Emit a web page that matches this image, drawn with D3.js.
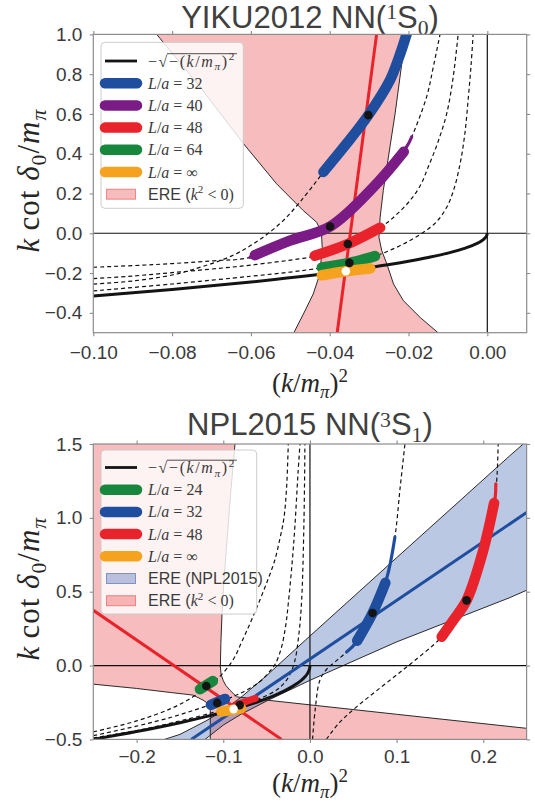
<!DOCTYPE html>
<html>
<head>
<meta charset="utf-8">
<script src="https://cdn.jsdelivr.net/npm/d3@7"></script>
<style>
  body { margin: 0; background: #fff; }
  .tick text { fill: #3a3a3a; font-family: "Liberation Sans", Arial, sans-serif; font-size: 19px; }
  .tick line { stroke: #8c8c8c; stroke-width: 1.1; }
</style>
</head>
<body>
<div id="chart"></div>
<script>
// ---------- shared ----------
const sqrtCurve = [[-0.25,-0.5],[-0.2,-0.447],[-0.15,-0.387],[-0.12,-0.346],[-0.10,-0.316],[-0.08,-0.283],[-0.06,-0.245],[-0.04,-0.2],[-0.03,-0.173],[-0.02,-0.141],[-0.015,-0.122],[-0.01,-0.1],[-0.006,-0.077],[-0.003,-0.055],[-0.0015,-0.039],[-0.0006,-0.024],[-0.0002,-0.014],[0,0]];

// ---------- top panel: YIKU2012 NN(1S0) ----------
const topXTicks = [-0.10,-0.08,-0.06,-0.04,-0.02,0.00];
const topYTicks = [1.0,0.8,0.6,0.4,0.2,0.0,-0.2,-0.4];
const topPinkLeft = [[-0.0839,1.0],[-0.0729,0.736],[-0.0619,0.451],[-0.0535,0.249],[-0.0467,0.114],[-0.0433,0.055],[-0.0421,0.005],[-0.0419,-0.071],[-0.0425,-0.205],[-0.0442,-0.306],[-0.0467,-0.407],[-0.0491,-0.5]];
const topPinkRight = [[-0.0206,1.0],[-0.0217,0.854],[-0.0234,0.602],[-0.0251,0.383],[-0.0264,0.215],[-0.0272,0.081],[-0.0275,-0.020],[-0.0268,-0.087],[-0.0255,-0.154],[-0.0238,-0.255],[-0.0213,-0.339],[-0.0170,-0.424],[-0.0125,-0.5]];
const topEre = [[-0.0281,1.0],[-0.0381,-0.5]];
const topDash32 = [[-0.100,-0.256],[-0.090,-0.240],[-0.080,-0.210],[-0.0747,-0.182],[-0.065,-0.115],[-0.058,-0.035],[-0.052,0.060],[-0.047,0.170],[-0.0416,0.308]];
const topDash40 = [[-0.100,-0.171],[-0.085,-0.158],[-0.070,-0.139],[-0.0602,-0.121],[-0.0501,-0.037],[-0.0399,0.034],[-0.0289,0.232],[-0.0205,0.434],[-0.0192,0.484],[-0.0154,0.686],[-0.0137,0.837],[-0.0120,1.0]];
const topDash48 = [[-0.100,-0.228],[-0.090,-0.215],[-0.080,-0.198],[-0.070,-0.180],[-0.060,-0.160],[-0.0478,-0.129],[-0.0442,-0.117],[-0.0354,-0.054],[-0.0268,0.034],[-0.0230,0.095],[-0.0196,0.165],[-0.0170,0.240],[-0.0150,0.333],[-0.0125,0.460],[-0.0103,0.602],[-0.0087,0.780],[-0.0074,1.0]];
const topDash64 = [[-0.100,-0.290],[-0.080,-0.255],[-0.060,-0.216],[-0.050,-0.195],[-0.0425,-0.175],[-0.0350,-0.149],[-0.0281,-0.112],[-0.0235,-0.075],[-0.0195,-0.035],[-0.0162,0.005],[-0.0130,0.055],[-0.0103,0.131],[-0.0085,0.220],[-0.0069,0.350],[-0.0057,0.500],[-0.0048,0.686],[-0.0041,0.850],[-0.0036,1.0]];
const topBand32 = [[-0.0416,0.308],[-0.0357,0.451],[-0.0302,0.594],[-0.0247,0.770],[-0.0225,0.880],[-0.0205,1.0],[-0.0195,1.07]];
const topBand40Thin = [[-0.0602,-0.121],[-0.0501,-0.037],[-0.0399,0.034],[-0.0289,0.232],[-0.0205,0.434],[-0.0192,0.484]];
const topBand40 = [[-0.0590,-0.110],[-0.0501,-0.037],[-0.0399,0.034],[-0.0289,0.232],[-0.0212,0.410]];
const topBand48 = [[-0.0438,-0.113],[-0.0354,-0.054],[-0.0272,0.028]];
const topBand64 = [[-0.0420,-0.172],[-0.0350,-0.149],[-0.0285,-0.115]];
const topBandInf = [[-0.0420,-0.211],[-0.0359,-0.191],[-0.0297,-0.177]];
const topDots = [[-0.0302,0.594],[-0.0399,0.034],[-0.0354,-0.054],[-0.0350,-0.149]];
const topDotInf = [-0.0359,-0.191];
const topLegendLabels = ["L/a = 32","L/a = 40","L/a = 48","L/a = 64","L/a = ∞"];

// ---------- bottom panel: NPL2015 NN(3S1) ----------
const botXTicks = [-0.2,-0.1,0.0,0.1,0.2];
const botYTicks = [1.5,1.0,0.5,0.0,-0.5];
const botPinkUpper = [[-0.0865,1.5],[-0.091,1.2],[-0.095,0.9],[-0.099,0.6],[-0.1015,0.35],[-0.1028,0.15],[-0.1034,-0.01],[-0.1025,-0.06],[-0.1003,-0.099],[-0.097,-0.135],[-0.0923,-0.167],[-0.0846,-0.212],[0.0,-0.266],[0.1,-0.33],[0.25,-0.425]];
const botPinkLower = [[-0.25,-0.126],[-0.2,-0.155],[-0.16,-0.183],[-0.135,-0.200],[-0.1234,-0.234],[-0.1175,-0.258],[-0.115,-0.28],[-0.115,-0.5]];
const botBlueUpper = [[-0.168,-0.5],[-0.15,-0.466],[-0.12,-0.375],[-0.10,-0.303],[-0.08,-0.217],[-0.05,-0.068],[0.0,0.20],[0.1,0.73],[0.2307,1.421],[0.25,1.52]];
const botBlueLower = [[-0.121,-0.5],[-0.10,-0.403],[-0.08,-0.331],[-0.05,-0.24],[0.0,-0.10],[0.1,0.16],[0.2307,0.46],[0.25,0.51]];
const botEreRed = [[-0.25,0.374],[-0.0327,-0.5]];
const botEreBlue = [[-0.137,-0.5],[0.25,1.036]];
const botDash24 = [[-0.25,-0.449],[-0.20,-0.375],[-0.16,-0.29],[-0.135,-0.212],[-0.12,-0.15],[-0.105,-0.08],[-0.089,0.036],[-0.078,0.17],[-0.068,0.30],[-0.058,0.44],[-0.048,0.59],[-0.0407,0.711],[-0.0346,0.86],[-0.030,1.0],[-0.027,1.2],[-0.025,1.5]];
const botDash32a = [[-0.25,-0.475],[-0.20,-0.41],[-0.16,-0.35],[-0.13,-0.295],[-0.107,-0.25],[-0.081,-0.19],[-0.058,-0.11],[-0.045,-0.03],[-0.040,0.01],[-0.033,0.12],[-0.028,0.27],[-0.025,0.42],[-0.0205,0.70],[-0.0173,0.95],[-0.0138,1.3],[-0.0115,1.5]];
const botDash48a = [[-0.25,-0.49],[-0.20,-0.44],[-0.15,-0.375],[-0.10,-0.30],[-0.0811,-0.268],[-0.0696,-0.25],[-0.0389,-0.167],[-0.026,-0.09],[-0.018,0.02],[-0.013,0.2],[-0.0096,0.441],[-0.0069,0.98],[-0.0058,1.5]];
const botDash32b = [[0.003,-0.5],[0.006,-0.3],[0.0115,-0.099],[0.020,-0.02],[0.030,0.03],[0.0423,0.092],[0.0538,0.160],[0.0723,0.356],[0.0884,0.588],[0.098,0.869],[0.104,1.2],[0.1096,1.5]];
const botDash48b = [[0.019,-0.5],[0.0211,-0.482],[0.035,-0.38],[0.0538,-0.28],[0.0923,-0.099],[0.12,0.03],[0.15,0.182],[0.1653,0.306],[0.1807,0.441],[0.1999,0.779],[0.2075,0.95],[0.2134,1.12],[0.2160,1.3],[0.2172,1.5]];
const botBand32Thin = [[0.0423,0.092],[0.0538,0.160],[0.0723,0.356],[0.0884,0.588],[0.098,0.869]];
const botBand32 = [[0.0545,0.168],[0.0723,0.356],[0.0870,0.560]];
const botBand48Thin = [[0.1520,0.195],[0.1807,0.441],[0.1999,0.779],[0.2134,1.12],[0.2145,1.23]];
const botBand48 = [[0.1520,0.195],[0.1653,0.306],[0.1807,0.441],[0.1999,0.779],[0.2125,1.10]];
const botBlob24 = [[-0.127,-0.160],[-0.112,-0.105]];
const botBlob32 = [[-0.1143,-0.266],[-0.0980,-0.226]];
const botBlob48 = [[-0.086,-0.268],[-0.063,-0.222]];
const botBlobInf = [[-0.1021,-0.312],[-0.0795,-0.290]];
const botDots = [[-0.1196,-0.138],[-0.107,-0.253],[-0.0811,-0.268],[0.0723,0.356],[0.1807,0.441]];
const botDotInf = [-0.0881,-0.295];
const botLegendLabels = ["L/a = 24","L/a = 32","L/a = 48","L/a = ∞"];

// ---------- styles ----------
const serif = '"Liberation Serif", "DejaVu Serif", serif';
const sans = '"Liberation Sans", Arial, sans-serif';
const txt = "#3a3a3a";
const C = { black:"#141414", blue:"#1f4e9f", purple:"#7b1b85", red:"#e8232b", green:"#17873d", orange:"#f5a31e",
            pink:"rgb(232,60,62)", pinkOp:0.34, bband:"rgb(48,88,170)", bbandOp:0.33, spine:"#8c8c8c" };
const thick = 10.5, thin = 3.2;

const svg = d3.select("#chart").append("svg").attr("width", 535).attr("height", 806);

function rich(sel, parts, fs, supK = 0.40) {
  let shift = 0;
  parts.forEach(p => {
    const target = p.sub ? 0.24 * fs : p.sup ? -supK * fs : 0;
    sel.append("tspan").text(p.t)
      .attr("dy", target - shift)
      .style("font-size", (p.sub || p.sup) ? (fs * 0.7) + "px" : fs + "px")
      .style("font-style", p.i ? "italic" : "normal")
      .style("font-family", p.s ? sans : serif);
    shift = target;
  });
  return sel;
}

function panel(p) {
  const x = d3.scaleLinear().domain(p.xDomain).range([p.left, p.right]);
  const y = d3.scaleLinear().domain(p.yDomain).range([p.bottom, p.top]);
  svg.append("clipPath").attr("id", "clip" + p.id).append("rect")
    .attr("x", p.left).attr("y", p.top).attr("width", p.right - p.left).attr("height", p.bottom - p.top);
  const plot = svg.append("g").attr("clip-path", `url(#clip${p.id})`);

  const line = (pts, curve) => d3.line().x(d => x(d[0])).y(d => y(d[1])).curve(curve || d3.curveCatmullRom.alpha(0.5))(pts);
  const draw = (pts, color, w, opts = {}) => plot.append("path").attr("d", line(pts, opts.curve))
      .attr("fill", "none").attr("stroke", color).attr("stroke-width", w)
      .attr("stroke-linecap", opts.cap || "butt").attr("stroke-dasharray", opts.dash || null);
  const fill = (pts, color, op) => plot.append("path").attr("d", line(pts, d3.curveLinearClosed))
      .attr("fill", color).attr("fill-opacity", op).attr("stroke", "none");
  const dot = (pt, color) => plot.append("circle").attr("cx", x(pt[0])).attr("cy", y(pt[1])).attr("r", 4.3).attr("fill", color);

  // axes
  const fmtX = d3.format(p.xFmt), fmtY = d3.format(p.yFmt);
  const clean = g => g.select(".domain").remove();
  svg.append("g").attr("transform", `translate(0,${p.bottom})`)
    .call(d3.axisBottom(x).tickValues(p.xTicks).tickFormat(fmtX).tickSize(3.5).tickPadding(p.xPad)).call(clean);
  svg.append("g").attr("transform", `translate(0,${p.top})`)
    .call(d3.axisTop(x).tickValues(p.xTicks).tickFormat("").tickSize(3.5)).call(clean);
  svg.append("g").attr("transform", `translate(${p.left},0)`)
    .call(d3.axisLeft(y).tickValues(p.yTicks).tickFormat(fmtY).tickSize(3.5).tickPadding(7.5)).call(clean);
  svg.append("g").attr("transform", `translate(${p.right},0)`)
    .call(d3.axisRight(y).tickValues(p.yTicks).tickFormat("").tickSize(3.5)).call(clean);

  // title
  rich(svg.append("text").attr("x", (p.left + p.right) / 2).attr("y", p.titleY)
      .attr("text-anchor", "middle").attr("fill", "#404040"),
    [{t: p.title, s:1}, {t: p.sup, sup:1}, {t: "S", s:1}, {t: p.sub, sub:1}, {t: ")", s:1}], 31, 0.26);

  // x label
  rich(svg.append("text").attr("x", (p.left + p.right) / 2).attr("y", p.xLabelY)
      .attr("text-anchor", "middle").attr("fill", "#262626"),
    [{t:"("}, {t:"k", i:1}, {t:"/"}, {t:"m", i:1}, {t:"π", i:1, sub:1}, {t:")"}, {t:"2", sup:1}], 27, 0.36);

  // y label
  rich(svg.append("text").attr("transform", `translate(39,${(p.top + p.bottom) / 2 - 3}) rotate(-90)`)
      .attr("text-anchor", "middle").attr("fill", "#262626").style("letter-spacing", "1px"),
    [{t:"k", i:1}, {t:"\u2009cot "}, {t:"δ", i:1}, {t:"0", sub:1}, {t:"/"}, {t:"m", i:1}, {t:"π", i:1, sub:1}], 31);

  return { x, y, plot, draw, fill, dot, frame: () => svg.append("rect")
      .attr("x", p.left).attr("y", p.top).attr("width", p.right - p.left).attr("height", p.bottom - p.top)
      .attr("fill", "none").attr("stroke", C.spine).attr("stroke-width", 1.2) };
}

function legend(box, rows, rowY0) {
  const g = svg.append("g");
  g.append("rect").attr("x", box[0]).attr("y", box[1]).attr("width", box[2]).attr("height", box[3])
    .attr("rx", 4).attr("fill", "#fff").attr("fill-opacity", 0.82).attr("stroke", "#cccccc").attr("stroke-width", 1);
  rows.forEach((r, i) => {
    const cy = rowY0 + i * 22.2;
    if (r.kind === "line") {
      g.append("line").attr("x1", 105).attr("x2", 137).attr("y1", cy).attr("y2", cy)
        .attr("stroke", r.color).attr("stroke-width", r.w).attr("stroke-linecap", r.w > 5 ? "round" : "butt");
    } else {
      g.append("rect").attr("x", 106.5).attr("y", cy - 5).attr("width", 29).attr("height", 10)
        .attr("fill", r.color).attr("fill-opacity", r.op).attr("stroke", r.color).attr("stroke-opacity", 0.55);
    }
    const t = g.append("text").attr("x", 148).attr("y", cy + 5.5).attr("fill", txt);
    if (r.sqrt) t.style("letter-spacing", "1.6px");
    rich(t, r.parts, 16);
    if (r.sqrt) {
      const node = t.node();
      const ext = node.getExtentOfChar(1), bb = node.getBBox();
      g.append("line").attr("x1", ext.x + ext.width - 2).attr("x2", bb.x + bb.width + 1)
        .attr("y1", ext.y + 1.2).attr("y2", ext.y + 1.2).attr("stroke", txt).attr("stroke-width", 0.9);
    }
  });
}

const mathLa = s => [{t:"L", i:1}, {t:"/"}, {t:"a", i:1}, {t: s.replace("L/a", "")}];
const sqrtParts = [{t:"−√"}, {t:"−("}, {t:"k", i:1}, {t:"/"}, {t:"m", i:1}, {t:"π", i:1, sub:1}, {t:")"}, {t:"2", sup:1}];
const ereK = [{t:"ERE (", s:1}, {t:"k", i:1}, {t:"2", sup:1}, {t:" < 0)"}];

// ================= TOP PANEL =================
{
  const P = panel({ id: "a", left: 93.3, right: 526.7, top: 34.4, bottom: 332.7, xDomain: [-0.10, 0.01], yDomain: [-0.5, 1.0],
    xTicks: topXTicks, yTicks: topYTicks, xFmt: ".2f", yFmt: ".1f", xPad: 9, titleY: 27.5, xLabelY: 392,
    title: "YIKU2012 NN(", sup: "1", sub: "0" });

  P.fill(topPinkLeft.concat(topPinkRight.slice().reverse()), C.pink, C.pinkOp);
  P.draw(topPinkLeft, "#2a2a2a", 1, { curve: d3.curveLinear });
  P.draw(topPinkRight, "#2a2a2a", 1, { curve: d3.curveLinear });
  P.draw([[-0.1, 0], [0.01, 0]], "#111", 1.2, { curve: d3.curveLinear });
  P.draw([[0, -0.5], [0, 1.0]], "#111", 1.2, { curve: d3.curveLinear });
  P.draw(sqrtCurve, C.black, 3, { curve: d3.curveMonotoneX });
  [topDash32, topDash40, topDash48, topDash64].forEach(d => P.draw(d, "#111", 1.2, { dash: "4,3" }));
  P.draw(topEre, C.red, 3, { curve: d3.curveLinear });
  P.draw(topBand40Thin, C.purple, thin, { cap: "round" });
  P.draw(topBand40, C.purple, thick, { cap: "round" });
  P.draw(topBand32, C.blue, thick, { cap: "round" });
  P.draw(topBand48, C.red, thick, { cap: "round" });
  P.draw(topBand64, C.green, thick, { cap: "round" });
  P.draw(topBandInf, C.orange, thick, { cap: "round" });
  topDots.forEach(d => P.dot(d, "#141414"));
  P.dot(topDotInf, "#ffffff");
  P.frame();

  const cols = [C.blue, C.purple, C.red, C.green, C.orange];
  legend([101, 42.3, 142.3, 166], [
    { kind: "line", color: C.black, w: 2.8, parts: sqrtParts, sqrt: true },
    ...topLegendLabels.map((l, i) => ({ kind: "line", color: cols[i], w: thick, parts: mathLa(l) })),
    { kind: "patch", color: C.pink, op: C.pinkOp, parts: ereK }
  ], 61);
}

// ================= BOTTOM PANEL =================
{
  const P = panel({ id: "b", left: 93.3, right: 526.6, top: 444, bottom: 739.4, xDomain: [-0.25, 0.25], yDomain: [-0.5, 1.5],
    xTicks: botXTicks, yTicks: botYTicks, xFmt: ".1f", yFmt: ".1f", xPad: 7, titleY: 434.8, xLabelY: 792,
    title: "NPL2015 NN(", sup: "3", sub: "1" });

  const [x0, x1] = [-0.25, 0.25], [y0, y1] = [-0.5, 1.5];
  P.fill([[x0, y1]].concat(botPinkUpper, [[x1, y0]], botPinkLower.slice().reverse()), C.pink, C.pinkOp);
  P.fill(botBlueUpper.concat(botBlueLower.slice().reverse()), C.bband, C.bbandOp);
  P.draw(botPinkUpper, "#2a2a2a", 1, { curve: d3.curveLinear });
  P.draw(botPinkLower, "#2a2a2a", 1, { curve: d3.curveLinear });
  P.draw(botBlueUpper, "#2a2a2a", 1, { curve: d3.curveLinear });
  P.draw(botBlueLower, "#2a2a2a", 1, { curve: d3.curveLinear });
  P.draw([[x0, 0], [x1, 0]], "#111", 1.2, { curve: d3.curveLinear });
  P.draw([[0, y0], [0, y1]], "#111", 1.2, { curve: d3.curveLinear });
  [botDash24, botDash32a, botDash48a, botDash32b, botDash48b].forEach(d => P.draw(d, "#111", 1.2, { dash: "4,3" }));
  P.draw(sqrtCurve, C.black, 3, { curve: d3.curveMonotoneX });
  P.draw(botEreRed, C.red, 3, { curve: d3.curveLinear });
  P.draw(botEreBlue, C.blue, 3, { curve: d3.curveLinear });
  P.draw(botBand32Thin, C.blue, thin, { cap: "round" });
  P.draw(botBand32, C.blue, thick, { cap: "round" });
  P.draw(botBand48Thin, C.red, thin, { cap: "round" });
  P.draw(botBand48, C.red, thick, { cap: "round" });
  P.draw(botBlob24, C.green, thick, { cap: "round", curve: d3.curveLinear });
  P.draw(botBlob32, C.blue, thick, { cap: "round", curve: d3.curveLinear });
  P.draw(botBlob48, C.red, 7, { cap: "round", curve: d3.curveLinear });
  P.draw(botBlobInf, C.orange, thick, { cap: "round", curve: d3.curveLinear });
  botDots.forEach(d => P.dot(d, "#141414"));
  P.dot(botDotInf, "#ffffff");
  P.frame();

  const cols = [C.green, C.blue, C.red, C.orange];
  legend([101, 450, 155.7, 164], [
    { kind: "line", color: C.black, w: 2.8, parts: sqrtParts, sqrt: true },
    ...botLegendLabels.map((l, i) => ({ kind: "line", color: cols[i], w: thick, parts: mathLa(l) })),
    { kind: "patch", color: C.bband, op: C.bbandOp, parts: [{t:"ERE (NPL2015)", s:1}] },
    { kind: "patch", color: C.pink, op: C.pinkOp, parts: ereK }
  ], 467.5);
}
</script>
</body>
</html>
